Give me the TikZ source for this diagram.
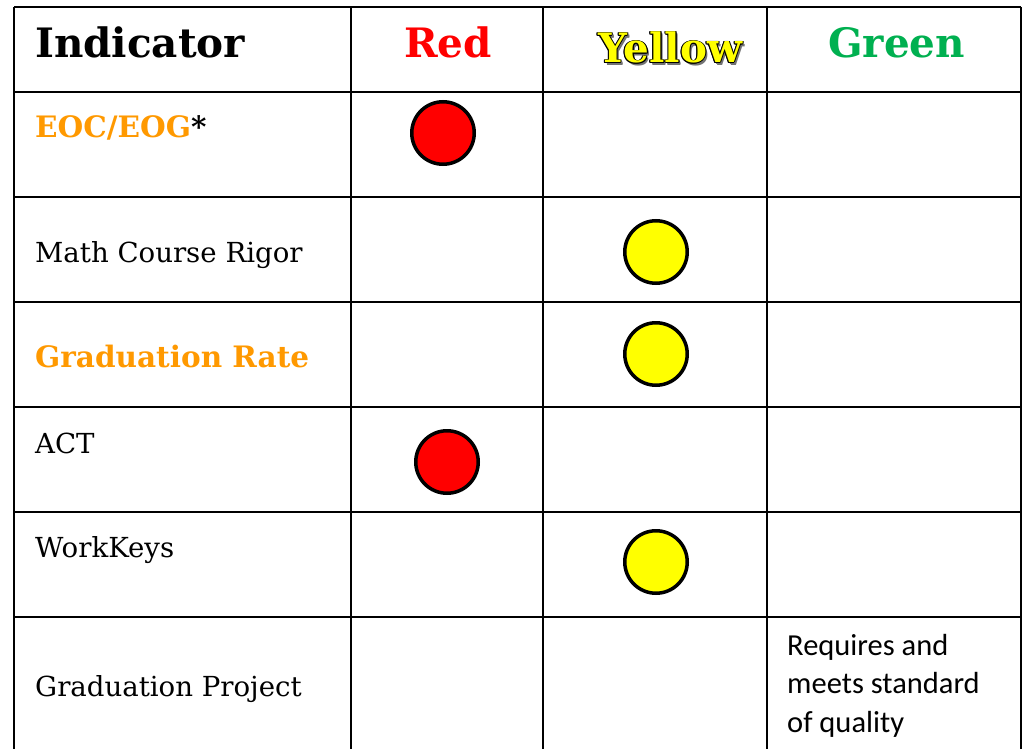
\documentclass[tikz,border=0pt]{standalone}
\usepackage{fontspec}
\setmainfont{DejaVu Serif}
\newfontfamily\calfont{Carlito}
\definecolor{orng}{HTML}{FF9900}
\definecolor{grn}{HTML}{00B050}
\definecolor{ylw}{HTML}{FFFF00}
\definecolor{rd}{HTML}{FF0000}
\tikzset{
  grid line/.style={line width=1.6pt, black},
  rowtext/.style={anchor=base west, inner sep=0pt, font=\fontsize{27.6}{30}\selectfont},
  rowbold/.style={anchor=base west, inner sep=0pt, font=\fontsize{29.5}{32}\selectfont\bfseries},
  headtext/.style={anchor=base west, inner sep=0pt, font=\fontsize{40.5}{44}\selectfont\bfseries},
  dot/.style={circle, draw=black, line width=3.5pt, minimum size=62.5pt, inner sep=0pt},
  reddot/.style={dot, fill=rd},
  ylwdot/.style={dot, fill=ylw},
  caltext/.style={anchor=base west, inner sep=0pt, font=\calfont\fontsize{30.5}{38.5}\selectfont},
}
\begin{document}
\begin{tikzpicture}[x=1pt,y=-1pt]
\useasboundingbox (0,0) rectangle (1022,749);
\fill[white] (0,0) rectangle (1022,749);
\begin{scope}
\clip (0,0) rectangle (1022,749);
% horizontal lines
\foreach \y in {7,92,197,302,407,512,617}
  \draw[grid line] (14,\y) -- (1021,\y);
% vertical lines
\foreach \x in {14,351,543,767,1021}
  \draw[grid line] (\x,7) -- (\x,760);
\end{scope}
% header
\node[headtext] (hind) at (35,58) {Indicator};
\node[headtext, text=rd] (hred) at (404,58) {Red};
\foreach \dx/\dy in {1.8/1.8,2.2/2.2}
  \node[headtext, text=black!55] at (598+\dx,63+\dy) {Yellow};
\foreach \dx/\dy in {-0.9/0,0.9/0,0/-0.9,0/0.9,-0.65/-0.65,0.65/0.65,-0.65/0.65,0.65/-0.65}
  \node[headtext, text=black] at (598+\dx,63+\dy) {Yellow};
\node[headtext, text=ylw] (hylw) at (598,63) {Yellow};
\node[headtext, text=grn] (hgrn) at (828,58) {Green};
% rows
\node[rowbold, text=orng] (eoc) at (35,138) {EOC/EOG\textcolor{black}{*}};
\node[rowtext] (math) at (35,262) {Math Course Rigor};
\node[rowbold, text=orng] (grad) at (35,367) {Graduation Rate};
\node[rowtext] (act) at (35,453) {ACT};
\node[rowtext] (wk) at (35,557) {WorkKeys};
\node[rowtext] (gp) at (35,696) {Graduation Project};
\node[caltext] (req1) at (787,655) {Requires and};
\node[caltext] (req2) at (787,693.5) {meets standard};
\node[caltext] (req3) at (787,732) {of quality};
% dots
\node[reddot] (d1) at (443,133) {};
\node[ylwdot] (d2) at (656,252) {};
\node[ylwdot] (d3) at (656,354) {};
\node[reddot] (d4) at (447,462) {};
\node[ylwdot] (d5) at (656,562) {};
\end{tikzpicture}
\end{document}
